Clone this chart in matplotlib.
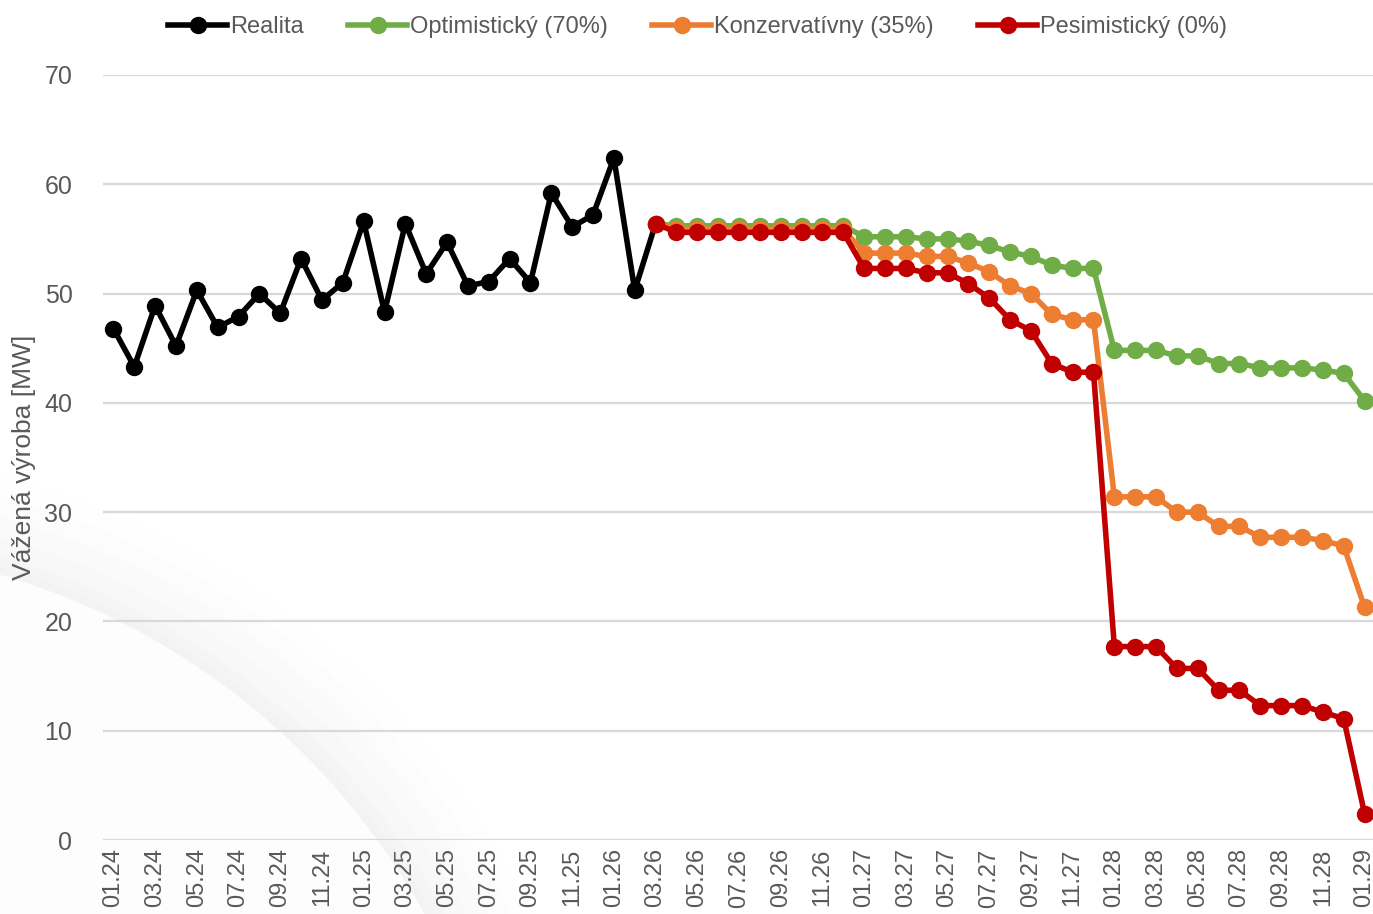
import matplotlib.pyplot as plt
import matplotlib.patches as mpatches
import matplotlib.transforms as mtransforms

plt.rcParams['font.family'] = ['Liberation Sans', 'DejaVu Sans']

# month labels 01.24 .. 01.29
months = [f"{m:02d}.{y}" for y in range(24, 30) for m in range(1, 13)][:61]

realita = [46.8, 43.3, 48.9, 45.2, 50.3, 46.9, 47.9, 50.0, 48.2, 53.2,
           49.4, 51.0, 56.6, 48.3, 56.4, 51.8, 54.7, 50.7, 51.1, 53.2,
           51.0, 59.2, 56.1, 57.2, 62.4, 50.3, 56.4]

# scenarios from 03.26 (index 26) to 01.29 (index 60)
optimisticky = [56.4, 56.2, 56.2, 56.2, 56.2, 56.2, 56.2, 56.2, 56.2, 56.2,
                55.2, 55.2, 55.2, 55.0, 55.0, 54.8, 54.4, 53.8, 53.4, 52.6,
                52.3, 52.3, 44.8, 44.8, 44.8, 44.3, 44.3, 43.6, 43.6, 43.2,
                43.2, 43.2, 43.0, 42.7, 40.2]
konzervativny = [56.4, 55.9, 55.9, 55.9, 55.9, 55.9, 55.9, 55.9, 55.9, 55.9,
                 53.7, 53.7, 53.7, 53.4, 53.4, 52.8, 52.0, 50.7, 50.0, 48.1,
                 47.6, 47.6, 31.4, 31.4, 31.4, 30.0, 30.0, 28.7, 28.7, 27.7,
                 27.7, 27.7, 27.4, 26.9, 21.3]
pesimisticky = [56.4, 55.6, 55.6, 55.6, 55.6, 55.6, 55.6, 55.6, 55.6, 55.6,
                52.3, 52.3, 52.3, 51.9, 51.9, 50.9, 49.6, 47.6, 46.6, 43.6,
                42.8, 42.8, 17.7, 17.7, 17.7, 15.7, 15.7, 13.7, 13.7, 12.3,
                12.3, 12.3, 11.7, 11.1, 2.4]

x_real = list(range(len(realita)))
x_scen = list(range(26, 26 + len(pesimisticky)))

fig = plt.figure(figsize=(13.73, 9.14), dpi=100)
fig.patch.set_facecolor('white')

# faint decorative arc in the background (pixel coords)
pix = mtransforms.IdentityTransform()
c = (-200, -346)
for r, a in [(810, 0.008), (790, 0.010), (770, 0.013), (750, 0.016),
             (732, 0.018), (722, 0.015)]:
    fig.add_artist(mpatches.Circle(c, r, transform=pix,
                                   facecolor='#888888', alpha=a,
                                   edgecolor='none', zorder=0))
fig.add_artist(mpatches.Circle(c, 714, transform=pix,
                               facecolor='white', alpha=0.85,
                               edgecolor='none', zorder=0))

ax = fig.add_axes([103 / 1373, 74 / 914, 1272 / 1373, 765 / 914])
ax.patch.set_alpha(0)

lw = 4
ms = 11.5
ax.plot(x_real, realita, color='black', lw=lw, marker='o', ms=ms, label='Realita')
ax.plot(x_scen, optimisticky, color='#70AD47', lw=lw, marker='o', ms=ms,
        label='Optimistický (70%)')
ax.plot(x_scen, konzervativny, color='#ED7D31', lw=lw, marker='o', ms=ms,
        label='Konzervatívny (35%)')
ax.plot(x_scen, pesimisticky, color='#C00000', lw=lw, marker='o', ms=ms,
        label='Pesimistický (0%)')

ax.set_xlim(-0.5, 60.5)
ax.set_ylim(0, 70)
ax.set_yticks(range(0, 71, 10))
ax.set_xticks(range(0, 61, 2))
ax.set_xticklabels(months[::2], rotation=90)
ax.tick_params(axis='both', length=0, labelsize=17, colors='#595959')
ax.tick_params(axis='y', labelsize=18, pad=22)
ax.tick_params(axis='x', pad=6)
ax.grid(axis='y', color='#d9d9d9', lw=1.6)
ax.set_axisbelow(True)
for s in ax.spines.values():
    s.set_visible(False)

ax.set_ylabel('Vážená výroba [MW]', fontsize=19, color='#595959', labelpad=6)

fig.legend(loc='upper center', bbox_to_anchor=(0.508, 1.006), ncol=4,
           frameon=False, fontsize=17, handlelength=2.5, handletextpad=0.1,
           columnspacing=1.9, labelcolor='#595959')

fig.savefig('out.png', dpi=100)
